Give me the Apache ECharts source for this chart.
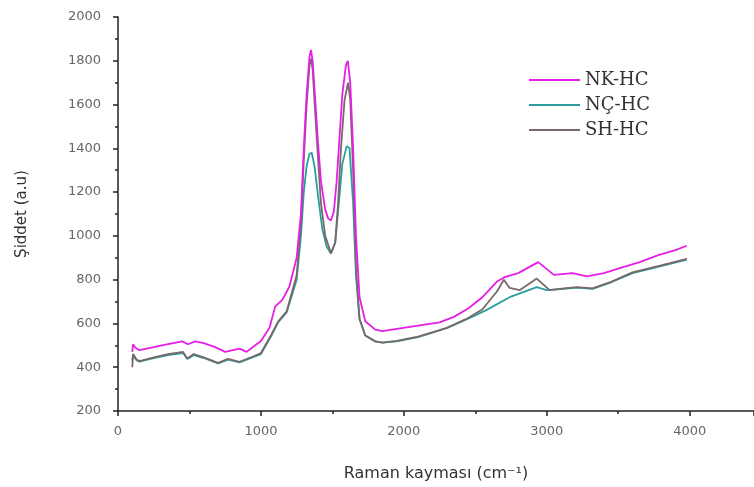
<!DOCTYPE html>
<html>
<head>
<meta charset="utf-8">
<script src="https://cdn.jsdelivr.net/npm/echarts@6/dist/echarts.min.js"></script>
<style>html,body{margin:0;padding:0;background:#fff;}#c{width:754px;height:487px;}</style>
</head>
<body>
<div id="c"></div>
<script>
const seriesNames = ['NK-HC', 'NÇ-HC', 'SH-HC'];
const xTicks = [0, 1000, 2000, 3000, 4000];
const yTicks = [200, 400, 600, 800, 1000, 1200, 1400, 1600, 1800, 2000];

const nkX = [100,105,120,150,250,350,450,490,540,600,680,750,850,900,960,1000,1060,1100,1150,1200,1250,1280,1300,1320,1340,1350,1362,1380,1400,1420,1450,1470,1490,1510,1530,1545,1570,1595,1608,1625,1645,1665,1690,1730,1800,1850,1950,2100,2250,2350,2450,2550,2650,2700,2800,2940,3050,3180,3280,3400,3500,3650,3780,3900,3980];
const nkY = [470,505,490,478,492,505,518,505,518,510,492,470,485,470,500,520,580,678,708,770,900,1100,1400,1650,1820,1850,1800,1620,1420,1250,1120,1080,1070,1110,1250,1400,1650,1780,1800,1700,1400,1000,720,610,572,565,575,590,605,630,668,720,790,810,830,880,822,830,815,830,850,880,912,935,955];

const ncX = [100,105,130,150,250,350,455,485,530,600,700,770,850,950,1000,1070,1120,1180,1250,1280,1300,1320,1340,1355,1375,1400,1430,1460,1490,1520,1545,1570,1600,1620,1645,1665,1690,1730,1800,1850,1950,2100,2300,2450,2580,2740,2930,3000,3120,3210,3320,3450,3600,3800,3980];
const ncY = [430,455,432,425,442,455,465,438,455,442,418,435,422,447,460,540,605,650,800,1000,1200,1320,1375,1380,1320,1180,1030,950,920,970,1150,1330,1410,1400,1150,820,620,545,518,512,518,538,578,622,662,720,766,752,758,764,758,788,830,862,892];

const shX = [100,105,130,150,250,350,455,485,530,600,700,770,850,950,1000,1070,1120,1180,1250,1280,1300,1320,1340,1350,1362,1380,1400,1420,1450,1490,1520,1540,1560,1585,1610,1625,1645,1665,1690,1730,1800,1850,1950,2100,2300,2450,2550,2650,2700,2740,2810,2930,3020,3120,3210,3320,3450,3600,3800,3980];
const shY = [400,460,435,428,445,460,470,440,460,445,420,438,425,450,465,545,608,655,820,1050,1350,1600,1780,1810,1760,1560,1350,1150,1000,920,970,1150,1400,1620,1700,1620,1300,850,620,545,518,512,520,540,580,625,665,745,800,762,752,805,752,760,766,760,790,833,865,895];

const zip = (xs, ys) => xs.map((x, i) => [x, ys[i]]);
const colors = {'NK-HC': '#e61ee6', 'NÇ-HC': '#2a9e9e', 'SH-HC': '#7a6868'};

const chart = echarts.init(document.getElementById('c'), null, {renderer: 'canvas'});
chart.setOption({
  animation: false,
  backgroundColor: '#ffffff',
  grid: {left: 118, top: 17, right: 0, bottom: 69, containLabel: false},
  legend: {
    data: seriesNames,
    orient: 'vertical',
    left: 524,
    top: 65,
    itemWidth: 51,
    itemHeight: 2,
    itemGap: 5,
    icon: 'rect',
    textStyle: {fontFamily: 'DejaVu Serif', fontSize: 18, color: '#333', lineHeight: 20, padding: [0, 0, 0, 0]}
  },
  xAxis: {
    type: 'value',
    min: 0,
    max: 4450,
    interval: 1000,
    name: 'Raman kayması (cm⁻¹)',
    nameLocation: 'middle',
    nameGap: 55,
    nameTextStyle: {fontFamily: 'DejaVu Sans', fontSize: 16, color: '#333'},
    axisLine: {show: true, onZero: false, lineStyle: {color: '#222', width: 1.5}},
    axisTick: {show: true, inside: false, length: 5, lineStyle: {color: '#222', width: 1.5}},
    minorTick: {show: true, splitNumber: 2, length: 3, lineStyle: {color: '#222', width: 1.5}},
    splitLine: {show: false},
    axisLabel: {
      margin: 14, fontFamily: 'DejaVu Sans', fontSize: 13, color: '#666',
      showMaxLabel: false,
      formatter: v => (xTicks.indexOf(v) >= 0 ? String(v) : '')
    }
  },
  yAxis: {
    type: 'value',
    min: 200,
    max: 2000,
    interval: 200,
    name: 'Şiddet (a.u)',
    nameLocation: 'middle',
    nameGap: 88,
    nameRotate: 90,
    nameTextStyle: {fontFamily: 'DejaVu Sans', fontSize: 15, color: '#333'},
    axisLine: {show: true, onZero: false, lineStyle: {color: '#222', width: 1.5}},
    axisTick: {show: true, inside: false, length: 5, lineStyle: {color: '#222', width: 1.5}},
    minorTick: {show: true, splitNumber: 2, length: 3, lineStyle: {color: '#222', width: 1.5}},
    splitLine: {show: false},
    axisLabel: {
      margin: 17, fontFamily: 'DejaVu Sans', fontSize: 13, color: '#666',
      formatter: v => (yTicks.indexOf(v) >= 0 ? String(v) : '')
    }
  },
  series: [
    {name: 'NÇ-HC', type: 'line', data: zip(ncX, ncY), showSymbol: false, symbol: 'none', lineStyle: {color: colors['NÇ-HC'], width: 1.8}, itemStyle: {color: colors['NÇ-HC']}},
    {name: 'SH-HC', type: 'line', data: zip(shX, shY), showSymbol: false, symbol: 'none', lineStyle: {color: colors['SH-HC'], width: 1.8}, itemStyle: {color: colors['SH-HC']}},
    {name: 'NK-HC', type: 'line', data: zip(nkX, nkY), showSymbol: false, symbol: 'none', lineStyle: {color: colors['NK-HC'], width: 1.8}, itemStyle: {color: colors['NK-HC']}}
  ]
});
</script>
</body>
</html>
